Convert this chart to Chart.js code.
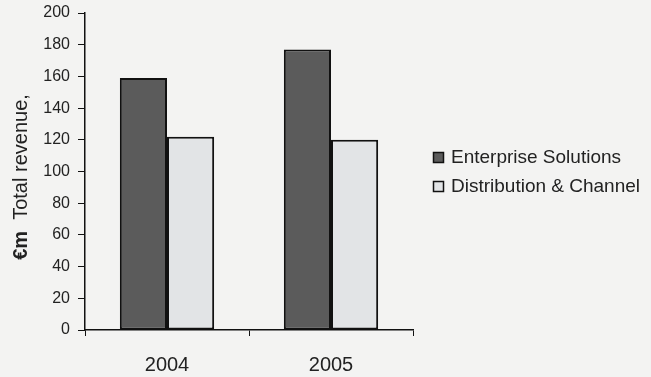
<!DOCTYPE html>
<html>
<head>
<meta charset="utf-8">
<script src="https://cdn.jsdelivr.net/npm/chart.js@4"></script>
<style>
  html, body { margin: 0; padding: 0; background: #f3f3f2; }
  #wrap { width: 651px; height: 377px; }
</style>
</head>
<body>
<div id="wrap"><canvas id="revChart" width="651" height="377"></canvas></div>
<script>
// data
years = ["2004", "2005"];
enterprise = [159, 177];
distribution = [122, 120];
seriesNames = ["Enterprise Solutions", "Distribution & Channel"];
yTicks = [0, 20, 40, 60, 80, 100, 120, 140, 160, 180, 200];

const FONT = "'Liberation Sans', Arial, sans-serif";

// y title has a bold "€m" then plain text, and a hand made legend on the right
const extras = {
    id: "extras",
    afterDraw(chart) {
        const ctx = chart.ctx;
        ctx.save();
        // axis title
        ctx.translate(21, 177);
        ctx.rotate(-Math.PI / 2);
        ctx.fillStyle = "#222";
        ctx.textBaseline = "middle";
        const bold = "€m";
        const rest = "  Total revenue,";
        ctx.font = "bold 20px " + FONT;
        const wb = ctx.measureText(bold).width;
        ctx.font = "20px " + FONT;
        const wr = ctx.measureText(rest).width;
        let x0 = -(wb + wr) / 2;
        ctx.font = "bold 20px " + FONT;
        ctx.textAlign = "left";
        ctx.fillText(bold, x0, 0);
        ctx.font = "20px " + FONT;
        ctx.fillText(rest, x0 + wb, 0);
        ctx.restore();

        // legend
        ctx.save();
        ctx.font = "19px " + FONT;
        ctx.textBaseline = "middle";
        chart.data.datasets.forEach(function (ds, i) {
            const y = 157 + i * 29;
            ctx.fillStyle = ds.backgroundColor;
            ctx.fillRect(433, y - 5, 11, 11);
            ctx.strokeStyle = "#111";
            ctx.lineWidth = 1.5;
            ctx.strokeRect(433.5, y - 4.5, 10, 10);
            ctx.fillStyle = "#222";
            ctx.fillText(ds.label, 451, y + 1);
        });
        ctx.restore();
    }
};

new Chart("revChart", {
    type: "bar",
    data: {
        labels: years,
        datasets: [
            {
                label: seriesNames[0],
                data: enterprise,
                backgroundColor: "#5b5b5b",
                borderColor: "#111",
                borderWidth: 2,
                borderSkipped: false
            },
            {
                label: seriesNames[1],
                data: distribution,
                backgroundColor: "#e2e4e6",
                borderColor: "#111",
                borderWidth: 2,
                borderSkipped: false
            }
        ]
    },
    options: {
        responsive: false,
        animation: false,
        layout: { padding: { left: 0, right: 238, top: 13, bottom: 0 } },
        plugins: {
            legend: { display: false },
            tooltip: { enabled: false }
        },
        datasets: {
            bar: { categoryPercentage: 0.575, barPercentage: 1.0 }
        },
        scales: {
            x: {
                grid: {
                    offset: true,
                    drawOnChartArea: false,
                    drawTicks: true,
                    tickLength: 6,
                    color: "#111"
                },
                border: { color: "#111", width: 1.5 },
                ticks: {
                    color: "#222",
                    font: { family: FONT, size: 20 },
                    padding: 17
                },
                afterFit(scale) { scale.height = 47; }
            },
            y: {
                min: 0,
                max: 200,
                afterBuildTicks(scale) {
                    scale.ticks = yTicks.map(function (v) { return { value: v }; });
                },
                grid: {
                    drawOnChartArea: false,
                    drawTicks: true,
                    tickLength: 7,
                    color: "#111"
                },
                border: { color: "#111", width: 1.5 },
                ticks: {
                    color: "#222",
                    font: { family: FONT, size: 16 },
                    padding: 8
                },
                afterFit(scale) { scale.width = 85; scale.paddingTop = 0; }
            }
        }
    },
    plugins: [extras]
});
</script>
</body>
</html>
